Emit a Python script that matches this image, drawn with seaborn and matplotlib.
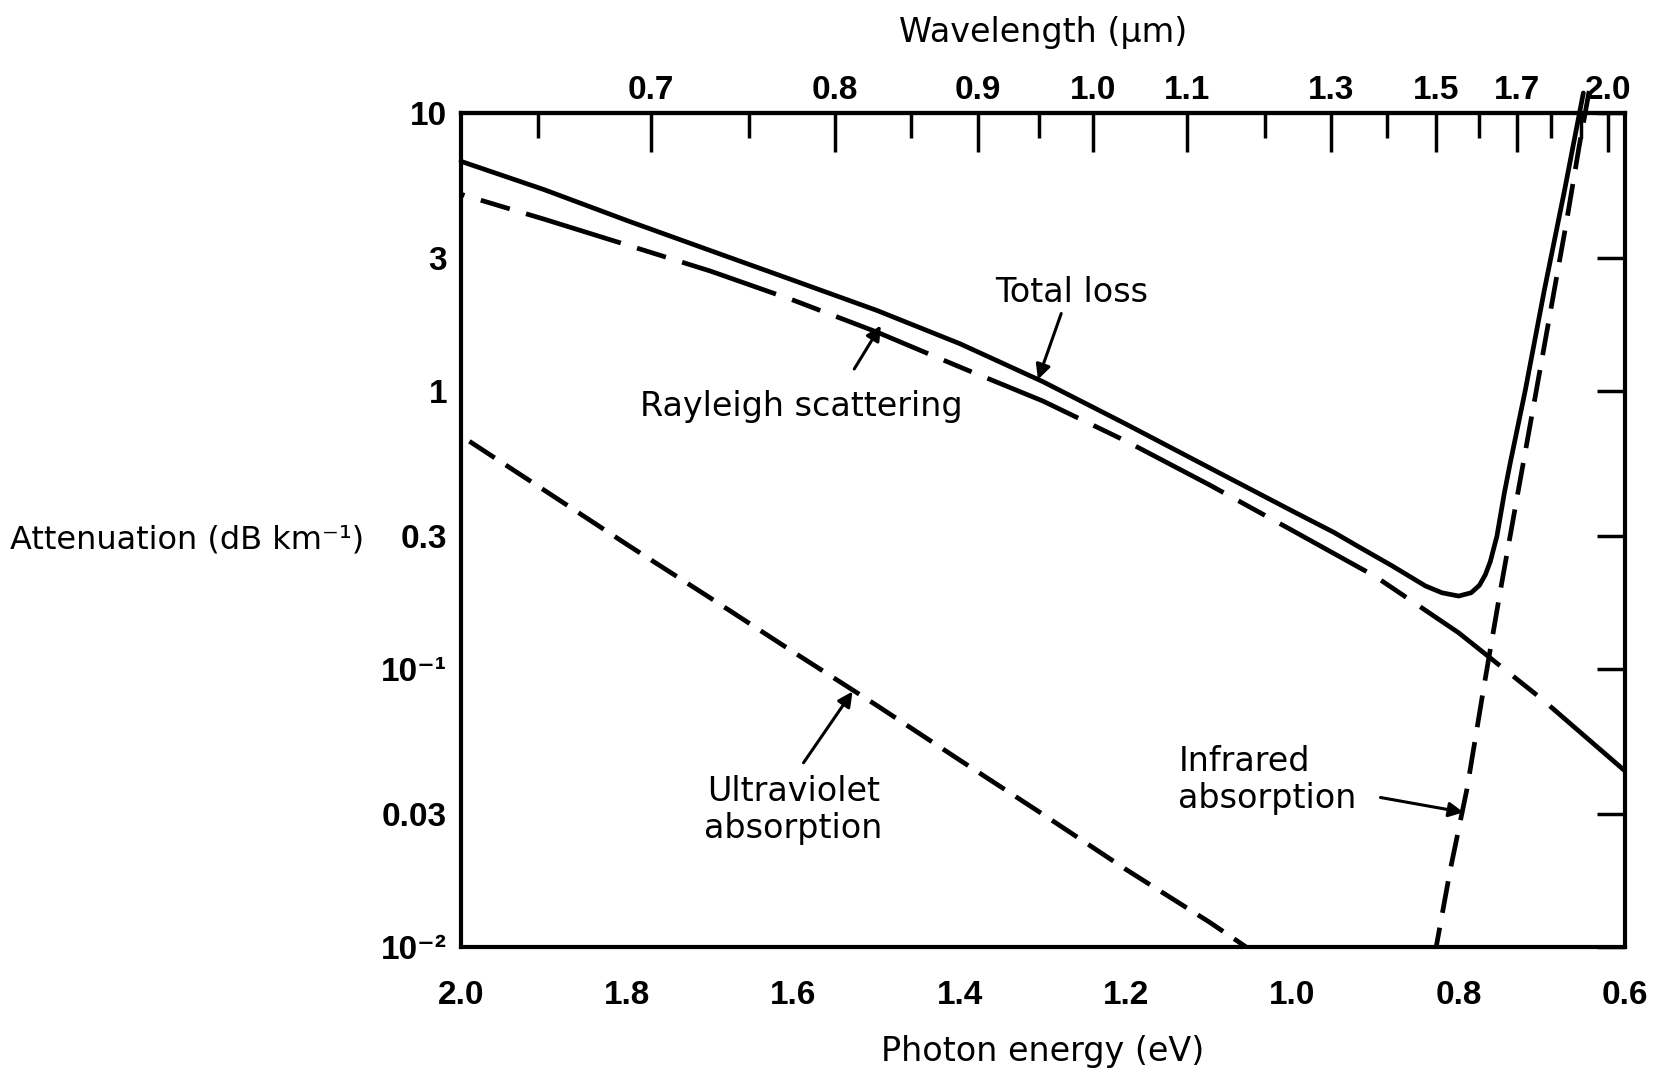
import numpy as np
import pandas as pd
import seaborn as sns
import matplotlib.pyplot as plt
from matplotlib.ticker import NullLocator
from matplotlib.transforms import blended_transform_factory

# Photon energy (eV) vs attenuation (dB/km)
total_E = [2.0, 1.9, 1.8, 1.7, 1.6, 1.5, 1.4, 1.3, 1.2, 1.1, 1.0, 0.95, 0.92, 0.88,
           0.84, 0.82, 0.80, 0.785, 0.775, 0.768, 0.762, 0.754, 0.745, 0.738, 0.72, 0.697, 0.673, 0.65]
total_loss = [6.7, 5.3, 4.1, 3.2, 2.5, 1.95, 1.48, 1.08, 0.76, 0.53, 0.37, 0.31, 0.275, 0.235,
              0.199, 0.188, 0.183, 0.188, 0.20, 0.218, 0.243, 0.30, 0.43, 0.55, 1.0, 2.3, 5.2, 11.8]

ray_E = [2.0, 1.9, 1.8, 1.7, 1.6, 1.5, 1.4, 1.3, 1.2, 1.1, 1.0, 0.9, 0.8, 0.7, 0.6]
ray_loss = [5.1, 4.15, 3.35, 2.7, 2.12, 1.63, 1.22, 0.92, 0.66, 0.46, 0.315, 0.215, 0.135, 0.078, 0.043]

uv_E = [2.0, 1.9, 1.8, 1.7, 1.6, 1.5, 1.4, 1.3, 1.2, 1.1, 1.04]
uv_loss = [0.69, 0.44, 0.28, 0.18, 0.115, 0.074, 0.047, 0.030, 0.019, 0.0123, 0.0093]

ir_E = [0.827, 0.81, 0.79, 0.77, 0.75, 0.73, 0.71, 0.69, 0.67, 0.655, 0.643]
ir_loss = [0.010, 0.019, 0.037, 0.085, 0.19, 0.41, 0.88, 1.9, 4.1, 7.6, 12.0]

# axis ticks
energy_ticks = [2.0, 1.8, 1.6, 1.4, 1.2, 1.0, 0.8, 0.6]
energy_minor = [1.9, 1.7, 1.5, 1.3, 1.1, 0.9, 0.7]
att_ticks = [10, 3, 1, 0.3, 0.1, 0.03, 0.01]
att_labels = ['10', '3', '1', '0.3', '10⁻¹', '0.03', '10⁻²']
wl_ticks = [0.7, 0.8, 0.9, 1.0, 1.1, 1.3, 1.5, 1.7, 2.0]
wl_minor = [0.65, 0.75, 0.85, 0.95, 1.2, 1.4, 1.6, 1.8, 1.9]

sns.set_style('white')
plt.rcParams['font.family'] = ['DejaVu Sans']
plt.rcParams.update({'text.color': 'black', 'axes.labelcolor': 'black',
                     'xtick.color': 'black', 'ytick.color': 'black'})
num_font = ['Liberation Sans', 'DejaVu Sans']

fig = plt.figure(figsize=(16.63, 10.72), dpi=100)
ax = fig.add_axes([0.2772, 0.1166, 0.6999, 0.778])

lw = 3.4
sns.lineplot(data=pd.DataFrame({'E': total_E, 'a': total_loss}), x='E', y='a', ax=ax,
             color='black', lw=lw, clip_on=False)
sns.lineplot(data=pd.DataFrame({'E': ray_E, 'a': ray_loss}), x='E', y='a', ax=ax,
             color='black', lw=lw, linestyle=(0, (21, 3.6, 6.4, 3.6)))
sns.lineplot(data=pd.DataFrame({'E': uv_E, 'a': uv_loss}), x='E', y='a', ax=ax,
             color='black', lw=lw, linestyle=(0, (6.4, 2.8)))
sns.lineplot(data=pd.DataFrame({'E': ir_E, 'a': ir_loss}), x='E', y='a', ax=ax,
             color='black', lw=lw, linestyle=(0, (6.8, 3.2)), clip_on=False)

ax.set_yscale('log')
ax.set_xlim(2.0, 0.6)
ax.set_ylim(0.01, 10)

for s in ax.spines.values():
    s.set_linewidth(3)
    s.set_color('black')

ax.set_xticks(energy_ticks)
ax.set_xticklabels([f'{t:.1f}' for t in energy_ticks], family=num_font, fontweight='bold', fontsize=24)
ax.set_xticks(energy_minor, minor=True)
ax.set_yticks(att_ticks)
ax.set_yticklabels(att_labels, family=num_font, fontweight='bold', fontsize=24)
ax.yaxis.set_minor_locator(NullLocator())
ax.tick_params(axis='x', which='major', direction='in', length=20, width=2.5, pad=24, top=False)
ax.tick_params(axis='x', which='minor', direction='in', length=14, width=2.5, top=False)
ax.tick_params(axis='y', which='major', direction='in', length=20, width=2.5, pad=10, right=True)
ax.set_xlabel('')
ax.set_ylabel('')

# wavelength axis on top: lambda(um) = 1.24 / E(eV)
secax = ax.secondary_xaxis('top', functions=(lambda e: 1.24 / np.clip(e, 1e-3, None),
                                              lambda l: 1.24 / np.clip(l, 1e-3, None)))
secax.set_xticks(wl_ticks)
secax.set_xticklabels([f'{t:.1f}' for t in wl_ticks], family=num_font, fontweight='bold', fontsize=24)
secax.set_xticks(wl_minor, minor=True)
secax.tick_params(axis='x', which='major', direction='in', length=28, width=2.5, pad=5)
secax.tick_params(axis='x', which='minor', direction='in', length=18, width=2.5)
secax.spines['top'].set_linewidth(3)
secax.set_xlabel('Wavelength (μm)', fontsize=24, labelpad=24)

ax.text(0.5, -0.125, 'Photon energy (eV)', transform=ax.transAxes, ha='center', va='center', fontsize=24)
trans = blended_transform_factory(fig.transFigure, ax.transData)
ax.text(0.006, 0.29, 'Attenuation (dB km⁻¹)', transform=trans, ha='left', va='center', fontsize=23)

arrow = dict(arrowstyle='-|>', color='black', lw=2.2, mutation_scale=22, shrinkA=0, shrinkB=0)
ax.annotate('', xy=(1.306, 1.10), xytext=(1.278, 1.9), arrowprops=arrow)
ax.text(1.265, 2.26, 'Total loss', ha='center', va='center', fontsize=24)
ax.annotate('', xy=(1.495, 1.72), xytext=(1.527, 1.2), arrowprops=arrow)
ax.text(1.591, 0.88, 'Rayleigh scattering', ha='center', va='center', fontsize=24)
ax.annotate('', xy=(1.529, 0.083), xytext=(1.588, 0.046), arrowprops=arrow)
ax.text(1.6, 0.031, 'Ultraviolet\nabsorption', ha='center', va='center', fontsize=24, linespacing=1.15)
ax.annotate('', xy=(0.794, 0.0305), xytext=(0.894, 0.0345), arrowprops=arrow)
ax.text(1.137, 0.040, 'Infrared\nabsorption', ha='left', va='center', fontsize=24, linespacing=1.15)

fig.savefig('out.png', dpi=100, facecolor='white')
